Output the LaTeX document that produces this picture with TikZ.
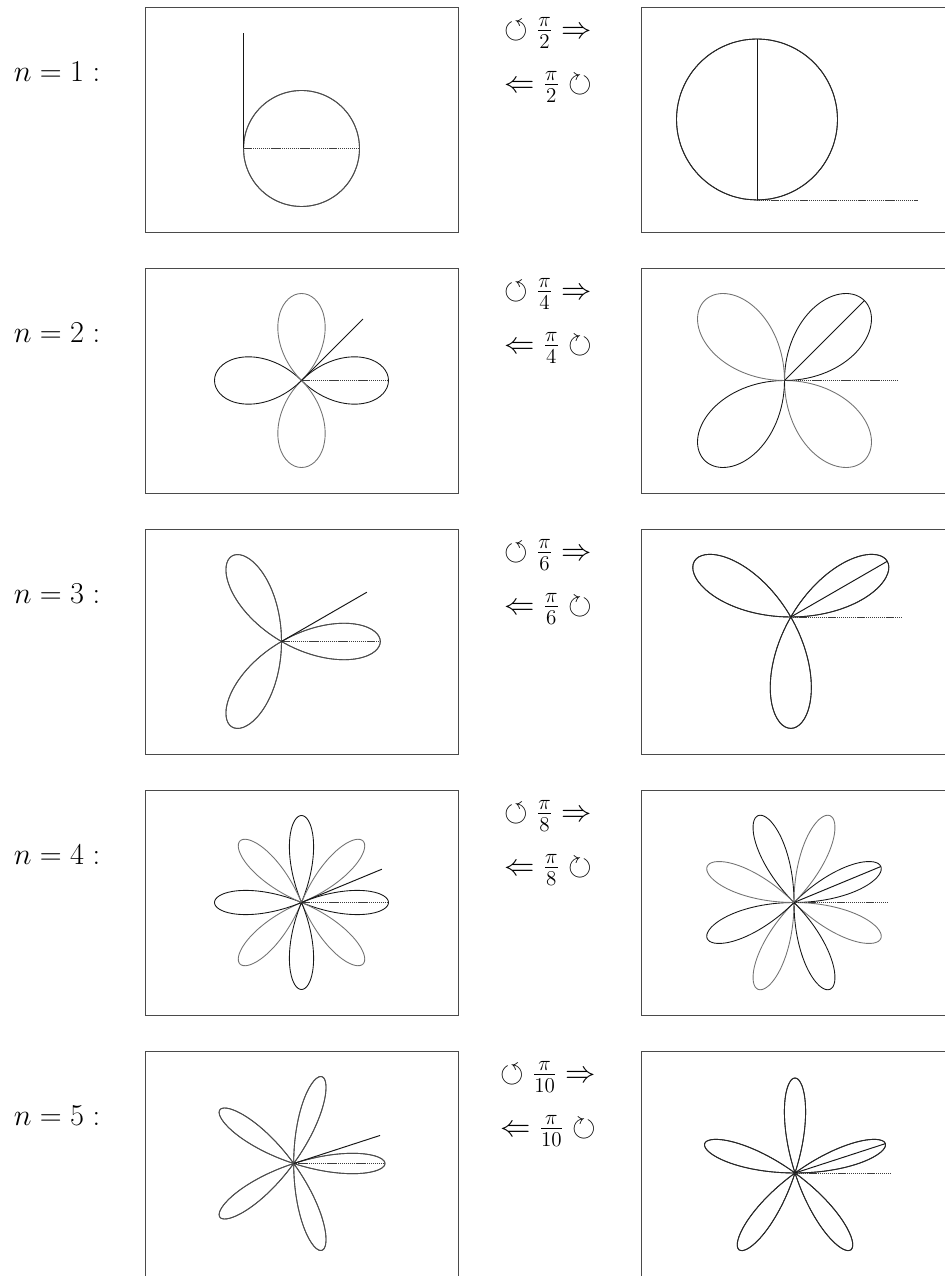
\documentclass[tikz,border=0pt]{standalone}
\usepackage{amsmath}
\usepackage{amssymb}
\usepackage{xcolor}
\definecolor{plotink}{HTML}{161616}
\definecolor{plotgray}{HTML}{3C3C3C}
\definecolor{framegray}{HTML}{4A4A4A}
\newcommand{\panelframe}[2]{%
  \draw[framegray, line width=0.5pt] (#1,#2) rectangle ({#1+313},{#2-225});
}
\newcommand{\panelrow}[3]{%
  \node (n#2) at (57,{#1-65}) {$n=#2:$};
  \node (ccw#2) at (548,{#1-26}) {$\circlearrowleft\frac{\pi}{#3}\Rightarrow$};
  \node (cw#2) at (548,{#1-80}) {$\Leftarrow\frac{\pi}{#3}\circlearrowright$};
  \panelframe{145}{#1}
  \panelframe{641}{#1}
}
\newcommand{\rosecurve}[7]{%
  \begin{scope}[shift={(#1,#2)}, scale=#3]
    \pgfmathtruncatemacro{\lastpetal}{2*#4-1}
    \foreach \k in {0,...,\lastpetal}{
      \pgfmathsetmacro{\pmin}{\k*180/#4-90/#4}
      \pgfmathsetmacro{\pmax}{\k*180/#4+90/#4}
      \pgfmathtruncatemacro{\podd}{mod(\k,2)}
      \ifnum\podd=0 \def\pcol{#6}\else\def\pcol{#7}\fi
      \draw[\pcol, line width=0.5pt] plot[domain=\pmin:\pmax, samples=41, smooth] ({\x+#5}:{cos(#4*\x)});
    }
    \coordinate (o) at (0,0);
    \coordinate (ray) at ({90/#4}:1);
    \coordinate (base) at (0:1);
    \draw[plotgray, dash pattern=on 0.7pt off 0.4pt, line width=0.55pt] (o) -- (base);
    \draw[plotink, line width=0.55pt] (o) -- (ray);
  \end{scope}
}

\begin{document}
\begin{tikzpicture}[x=0.02cm, y=0.02cm, every node/.style={font=\LARGE, inner sep=1pt}]

  \useasboundingbox (0,0) rectangle (945,1276);
  \clip (0,0) rectangle (945,1276);

  \panelrow{1269}{1}{2}
  \rosecurve{243.5}{1127.5}{116}{1}{0}{black!70}{black!70}
  \rosecurve{757}{1076}{161}{1}{90}{black!85}{black!85}

  \panelrow{1008}{2}{4}
  \rosecurve{301.5}{895.5}{87}{2}{0}{plotink}{black!55}
  \rosecurve{784.5}{895.5}{113}{2}{45}{plotink}{black!55}

  \panelrow{747}{3}{6}
  \rosecurve{281.5}{634.5}{98.8}{3}{0}{black!70}{black!70}
  \rosecurve{790.8}{659}{111.4}{3}{30}{black!85}{black!85}

  \panelrow{486}{4}{8}
  \rosecurve{301.5}{373.5}{87}{4}{0}{plotink}{black!55}
  \rosecurve{794}{373.5}{94}{4}{22.5}{plotink}{black!55}

  \panelrow{225}{5}{10}
  \rosecurve{293.7}{112.5}{91.3}{5}{0}{black!70}{black!70}
  \rosecurve{795}{103}{95}{5}{18}{black!85}{black!85}

\end{tikzpicture}
\end{document}
